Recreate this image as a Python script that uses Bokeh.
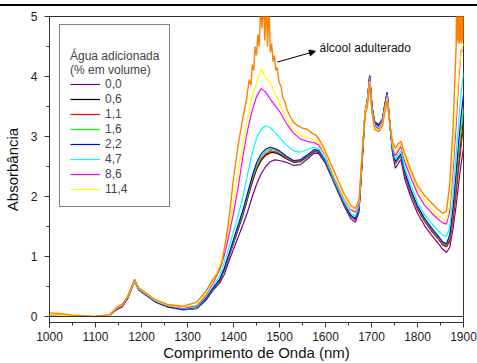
from bokeh.plotting import figure
from bokeh.models import Range1d, SingleIntervalTicker, Span, Arrow, NormalHead, Label, Div
from bokeh.layouts import column
from bokeh.embed import file_html
from bokeh.resources import INLINE

# ---------------- data ----------------
wavelength = [1000, 1030, 1060, 1100, 1130, 1147, 1158, 1170, 1185, 1194,
              1205, 1230, 1256, 1290, 1320, 1340, 1355, 1370, 1380, 1390,
              1400, 1410, 1420, 1430, 1440, 1450, 1460, 1470, 1480, 1490,
              1500, 1515, 1530, 1545, 1560, 1575, 1585, 1600, 1620, 1640,
              1655, 1665, 1673, 1680, 1686, 1691, 1696, 1701, 1707, 1716,
              1724, 1729, 1734, 1740, 1746, 1752, 1758, 1764, 1772, 1785,
              1800, 1815, 1830, 1845, 1855, 1863, 1870, 1877, 1884, 1890,
              1895, 1900]

agua_00 = [0.02, 0.01, 0.00, 0.00, 0.02, 0.12, 0.16, 0.30, 0.59, 0.44,
           0.38, 0.24, 0.16, 0.11, 0.13, 0.27, 0.43, 0.56, 0.70, 0.92,
           1.12, 1.32, 1.52, 1.73, 1.98, 2.20, 2.38, 2.50, 2.58, 2.61,
           2.60, 2.57, 2.52, 2.53, 2.62, 2.72, 2.72, 2.55, 2.20, 1.85,
           1.63, 1.57, 1.75, 2.60, 3.40, 3.60, 4.00, 3.50, 3.25, 3.20,
           3.30, 3.55, 3.74, 3.20, 2.70, 2.47, 2.55, 2.62, 2.30, 2.00,
           1.72, 1.52, 1.36, 1.22, 1.12, 1.07, 1.15, 1.45, 1.85, 2.25,
           2.55, 2.80]

agua_06 = [0.02, 0.01, 0.00, 0.00, 0.02, 0.13, 0.17, 0.31, 0.60, 0.45,
           0.39, 0.25, 0.17, 0.12, 0.14, 0.30, 0.46, 0.60, 0.78, 1.00,
           1.22, 1.45, 1.68, 1.95, 2.22, 2.45, 2.60, 2.69, 2.73, 2.73,
           2.70, 2.63, 2.57, 2.58, 2.66, 2.75, 2.74, 2.58, 2.22, 1.88,
           1.67, 1.62, 1.80, 2.65, 3.40, 3.60, 4.00, 3.50, 3.22, 3.17,
           3.28, 3.52, 3.72, 3.20, 2.75, 2.55, 2.62, 2.68, 2.38, 2.08,
           1.80, 1.60, 1.44, 1.30, 1.20, 1.17, 1.28, 1.65, 2.15, 2.60,
           2.95, 3.30]

agua_11 = [0.02, 0.01, 0.00, 0.00, 0.02, 0.13, 0.17, 0.31, 0.60, 0.45,
           0.39, 0.25, 0.17, 0.12, 0.14, 0.30, 0.46, 0.60, 0.78, 1.01,
           1.24, 1.47, 1.70, 1.97, 2.24, 2.47, 2.62, 2.71, 2.76, 2.75,
           2.72, 2.64, 2.58, 2.59, 2.67, 2.76, 2.75, 2.58, 2.22, 1.88,
           1.67, 1.61, 1.80, 2.65, 3.40, 3.62, 4.02, 3.50, 3.22, 3.17,
           3.28, 3.52, 3.72, 3.20, 2.75, 2.55, 2.62, 2.68, 2.38, 2.07,
           1.79, 1.59, 1.43, 1.29, 1.19, 1.16, 1.25, 1.58, 2.05, 2.50,
           2.85, 3.20]

agua_16 = [0.02, 0.01, 0.00, 0.00, 0.02, 0.13, 0.17, 0.31, 0.60, 0.45,
           0.39, 0.25, 0.17, 0.12, 0.14, 0.30, 0.46, 0.61, 0.79, 1.02,
           1.25, 1.49, 1.73, 2.00, 2.28, 2.51, 2.66, 2.75, 2.79, 2.78,
           2.74, 2.66, 2.59, 2.60, 2.68, 2.77, 2.76, 2.59, 2.23, 1.89,
           1.68, 1.63, 1.81, 2.66, 3.42, 3.60, 4.00, 3.50, 3.22, 3.17,
           3.28, 3.52, 3.72, 3.20, 2.76, 2.56, 2.63, 2.69, 2.40, 2.10,
           1.82, 1.62, 1.46, 1.32, 1.22, 1.19, 1.32, 1.72, 2.25, 2.75,
           3.10, 3.45]

agua_22 = [0.02, 0.01, 0.00, 0.00, 0.02, 0.13, 0.17, 0.31, 0.60, 0.45,
           0.39, 0.25, 0.17, 0.12, 0.15, 0.31, 0.47, 0.62, 0.80, 1.04,
           1.28, 1.52, 1.76, 2.04, 2.32, 2.56, 2.71, 2.79, 2.82, 2.80,
           2.76, 2.67, 2.60, 2.61, 2.69, 2.78, 2.77, 2.60, 2.24, 1.90,
           1.69, 1.63, 1.82, 2.67, 3.42, 3.60, 4.00, 3.50, 3.22, 3.17,
           3.28, 3.52, 3.72, 3.20, 2.77, 2.58, 2.65, 2.71, 2.42, 2.12,
           1.84, 1.64, 1.48, 1.34, 1.24, 1.21, 1.36, 1.80, 2.40, 2.95,
           3.35, 3.70]

agua_47 = [0.02, 0.01, 0.00, 0.00, 0.02, 0.14, 0.18, 0.32, 0.60, 0.46,
           0.40, 0.26, 0.18, 0.13, 0.16, 0.33, 0.50, 0.68, 0.90, 1.15,
           1.42, 1.68, 1.98, 2.35, 2.70, 2.97, 3.12, 3.18, 3.15, 3.07,
           2.98, 2.86, 2.76, 2.74, 2.78, 2.82, 2.80, 2.62, 2.26, 1.92,
           1.72, 1.67, 1.85, 2.70, 3.40, 3.60, 3.98, 3.48, 3.20, 3.15,
           3.26, 3.50, 3.70, 3.20, 2.80, 2.62, 2.70, 2.76, 2.48, 2.20,
           1.90, 1.70, 1.56, 1.43, 1.36, 1.33, 1.50, 2.00, 2.70, 3.30,
           3.75, 4.05]

agua_86 = [0.03, 0.02, 0.01, 0.00, 0.02, 0.14, 0.18, 0.32, 0.61, 0.47,
           0.41, 0.27, 0.19, 0.14, 0.18, 0.36, 0.55, 0.78, 1.02, 1.35,
           1.72, 2.15, 2.65, 3.08, 3.42, 3.66, 3.80, 3.74, 3.62, 3.52,
           3.42, 3.22, 3.06, 2.96, 2.92, 2.90, 2.86, 2.68, 2.30, 1.97,
           1.78, 1.74, 1.90, 2.72, 3.40, 3.58, 3.95, 3.45, 3.18, 3.12,
           3.24, 3.48, 3.68, 3.20, 2.83, 2.68, 2.76, 2.83, 2.58, 2.32,
           2.05, 1.86, 1.73, 1.62, 1.56, 1.54, 1.75, 2.40, 3.20, 4.00,
           4.45, 4.40]

agua_114 = [0.03, 0.02, 0.01, 0.00, 0.02, 0.15, 0.19, 0.33, 0.61, 0.47,
            0.41, 0.27, 0.19, 0.15, 0.20, 0.38, 0.58, 0.85, 1.12, 1.50,
            1.90, 2.40, 2.88, 3.28, 3.65, 3.88, 4.12, 3.98, 3.90, 3.72,
            3.55, 3.30, 3.12, 3.02, 2.98, 2.95, 2.90, 2.70, 2.32, 1.99,
            1.80, 1.77, 1.92, 2.75, 3.40, 3.56, 3.92, 3.42, 3.15, 3.10,
            3.22, 3.45, 3.65, 3.20, 2.86, 2.72, 2.82, 2.88, 2.65, 2.40,
            2.12, 1.94, 1.80, 1.68, 1.62, 1.60, 1.85, 2.60, 3.40, 4.10,
            4.40, 4.55]

alcool_nm = [1000, 1020, 1050, 1100, 1130, 1147, 1158, 1170, 1185, 1194,
             1205, 1230, 1256, 1290, 1320, 1340, 1355, 1364, 1375, 1385,
             1392, 1400, 1410, 1420, 1428, 1434, 1438, 1441, 1444, 1447,
             1450, 1453, 1456, 1459, 1462, 1465, 1468, 1471, 1474, 1477,
             1480, 1483, 1486, 1489, 1492, 1495, 1499, 1503, 1507, 1511,
             1516, 1522, 1530, 1540, 1550, 1560, 1570, 1580, 1590, 1600,
             1620, 1640, 1655, 1665, 1673, 1680, 1686, 1691, 1696, 1701,
             1707, 1716, 1724, 1729, 1734, 1740, 1746, 1752, 1758, 1764,
             1772, 1785, 1800, 1815, 1830, 1845, 1855, 1863, 1870, 1877,
             1881, 1884, 1885, 1886, 1887, 1888, 1889, 1890, 1891, 1892,
             1893, 1894, 1895, 1896, 1897, 1898, 1899, 1900]
alcool_abs = [0.06, 0.05, 0.02, 0.00, 0.03, 0.16, 0.20, 0.34, 0.62, 0.48,
              0.42, 0.28, 0.20, 0.17, 0.24, 0.42, 0.62, 0.70, 0.90, 1.35,
              1.75, 2.30, 2.85, 3.30, 3.60, 3.95, 3.85, 4.20, 4.10, 4.50,
              4.35, 4.70, 4.50, 5.20, 4.80, 5.30, 4.60, 5.30, 4.50, 5.20,
              4.40, 4.55, 4.25, 4.35, 4.10, 4.15, 3.90, 3.85, 3.65, 3.60,
              3.45, 3.35, 3.24, 3.18, 3.14, 3.12, 3.06, 3.02, 2.90, 2.75,
              2.40, 2.05, 1.85, 1.80, 1.95, 2.75, 3.35, 3.50, 3.88, 3.40,
              3.12, 3.08, 3.18, 3.40, 3.60, 3.20, 2.90, 2.80, 2.88, 2.92,
              2.72, 2.45, 2.18, 2.02, 1.90, 1.78, 1.72, 1.76, 2.20, 3.10,
              3.90, 4.50, 5.40, 4.60, 5.40, 4.55, 5.40, 4.60, 5.40, 4.55,
              5.40, 4.60, 5.40, 4.55, 5.40, 4.60, 5.40, 4.60]

series_labels = ["0,0", "0,6", "1,1", "1,6", "2,2", "4,7", "8,6", "11,4"]
series_values = [agua_00, agua_06, agua_11, agua_16, agua_22, agua_47, agua_86, agua_114]
series_colors = ["#800080", "#000000", "#FF0000", "#00FF00", "#0000FF",
                 "#00FFFF", "#FF00FF", "#FFFF00"]
alcool_color = "#FF8000"

legend_title = "\nÁgua adicionada\n(% em volume)"
annotation_text = "álcool adulterado"
arrow_tail = (1495, 4.24)
arrow_head = (1578, 4.42)
label_pos = (1587, 4.47)

FONT = "Liberation Sans"

# ---------------- figure ----------------
p = figure(width=477, height=357, x_range=Range1d(1000, 1900), y_range=Range1d(-0.1, 5),
           output_backend="svg", toolbar_location=None,
           min_border_left=49, min_border_right=14, min_border_top=10, min_border_bottom=40)

p.xgrid.grid_line_color = None
p.ygrid.grid_line_color = None
p.outline_line_color = "#333333"
p.outline_line_width = 1
p.background_fill_color = "white"
p.border_fill_color = "white"

p.add_layout(Span(location=0, dimension="width", line_color="#333333", line_width=1))

for lab, vals, col in zip(series_labels, series_values, series_colors):
    p.line(wavelength, vals, line_color=col, line_width=1.2, legend_label=lab)

p.line(alcool_nm, alcool_abs, line_color=alcool_color, line_width=1.4)

p.add_layout(Arrow(end=NormalHead(size=6, fill_color="black", line_color="black"),
                   x_start=arrow_tail[0], y_start=arrow_tail[1],
                   x_end=arrow_head[0], y_end=arrow_head[1],
                   line_color="black", line_width=1))
p.add_layout(Label(x=label_pos[0], y=label_pos[1], text=annotation_text,
                   text_baseline="middle", text_align="left",
                   text_font=FONT, text_font_size="12px", text_color="#111111"))

# axes
p.xaxis.ticker = SingleIntervalTicker(interval=100, num_minor_ticks=2)
p.yaxis.ticker = SingleIntervalTicker(interval=1, num_minor_ticks=2)
for ax in (p.xaxis, p.yaxis):
    ax.axis_line_color = "#333333"
    ax.major_tick_line_color = "#333333"
    ax.minor_tick_line_color = "#333333"
    ax.major_tick_in = 0
    ax.major_tick_out = 5
    ax.minor_tick_in = 0
    ax.minor_tick_out = 3
    ax.major_label_text_font = FONT
    ax.major_label_text_font_size = "12px"
    ax.major_label_text_color = "#222222"
    ax.axis_label_text_font = FONT
    ax.axis_label_text_font_size = "15px"
    ax.axis_label_text_font_style = "normal"
    ax.axis_label_text_color = "#111111"

p.xaxis.axis_label = "Comprimento de Onda (nm)"
p.xaxis.major_label_standoff = 4
p.xaxis.axis_label_standoff = 0
p.yaxis.axis_label = "Absorbância"
p.yaxis.major_label_standoff = 7
p.yaxis.axis_label_standoff = 7

# legend
lg = p.legend[0]
lg.title = legend_title
lg.title_text_font = FONT
lg.title_text_font_size = "12px"
lg.title_text_font_style = "normal"
lg.title_standoff = 0
lg.location = (10, 115)
lg.margin = 0
lg.padding = 10
lg.border_line_color = "black"
lg.border_line_width = 1
lg.background_fill_color = "white"
lg.background_fill_alpha = 1
lg.label_text_font = FONT
lg.label_text_font_size = "12px"
lg.glyph_width = 30
lg.glyph_height = 14
lg.label_height = 14
lg.label_standoff = 5
lg.spacing = 1

top_rule = Div(text="", width=477, height=2, margin=(4, 0, 0, 0),
               styles={"background-color": "black"})

layout = column(top_rule, p, spacing=0)

open("out.html", "w").write(file_html(layout, INLINE))
